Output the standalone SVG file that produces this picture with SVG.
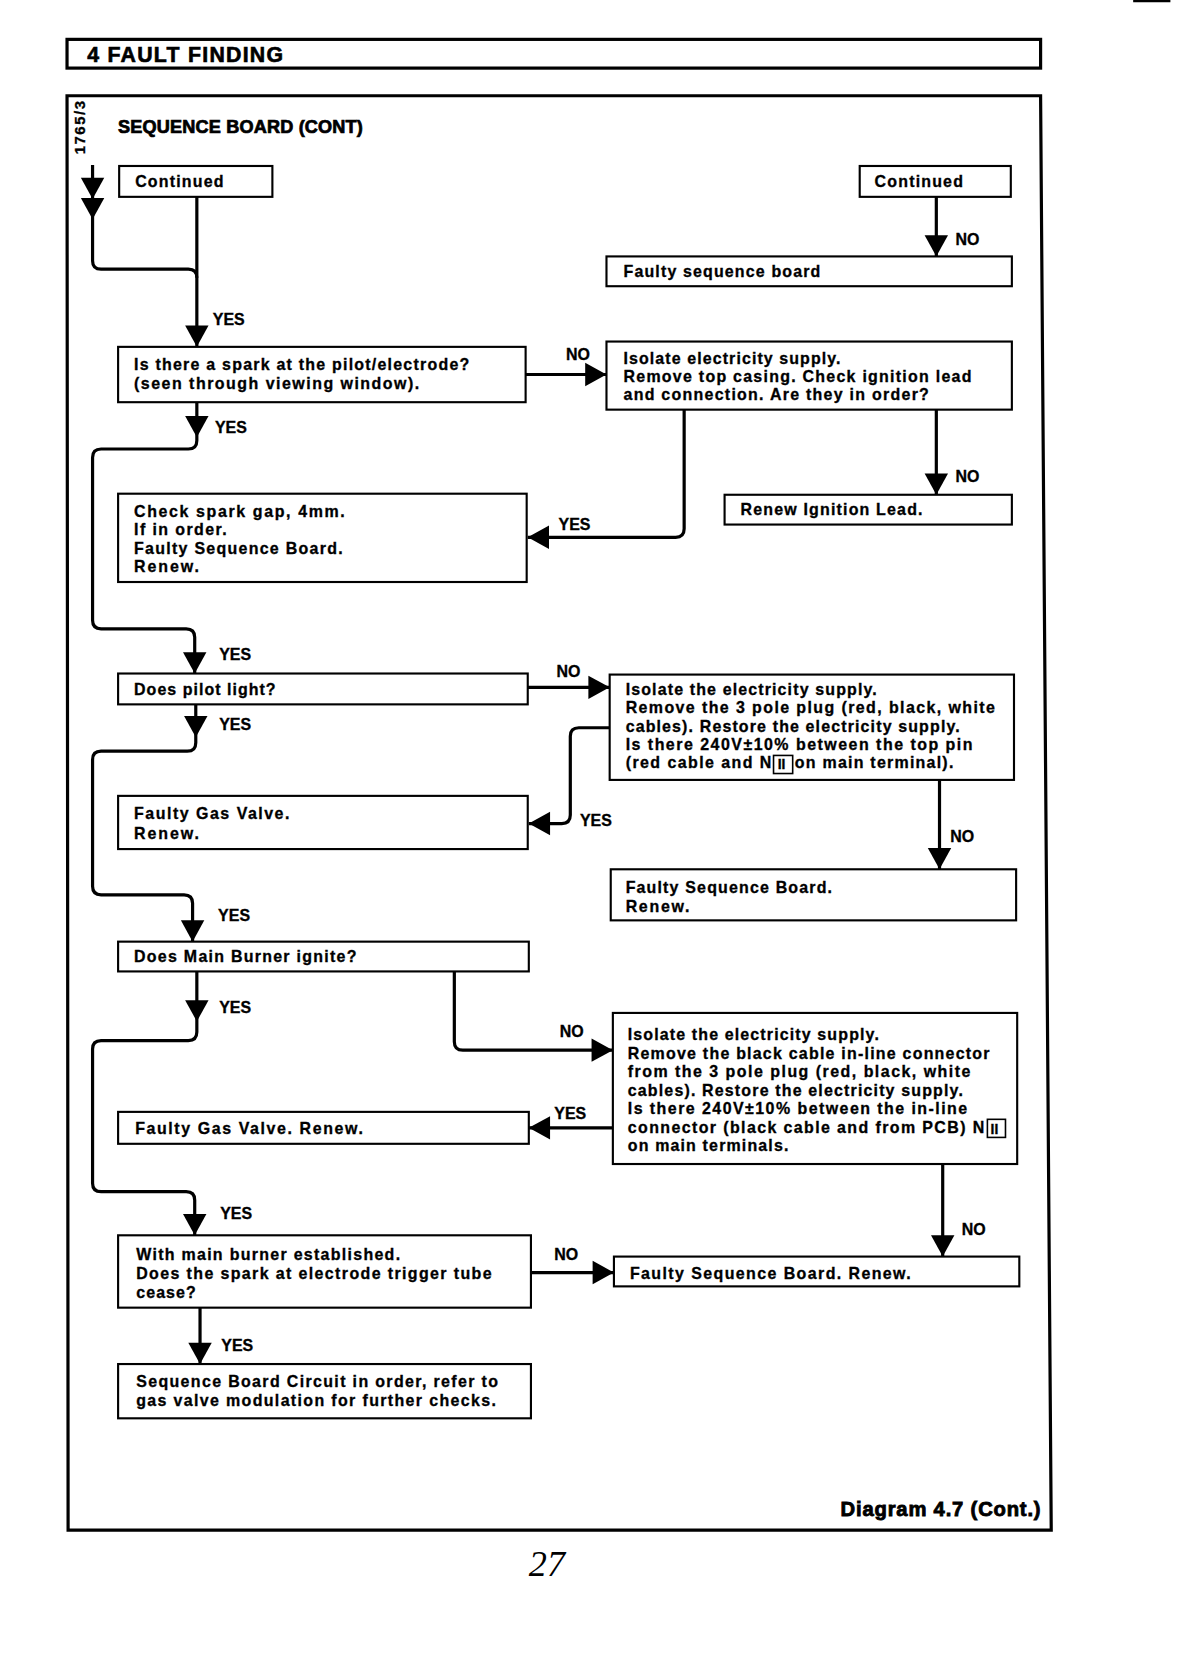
<svg xmlns="http://www.w3.org/2000/svg" xmlns:xlink="http://www.w3.org/1999/xlink" width="1180" height="1670" viewBox="0 0 1180 1670">
<style>
.box{fill:#fff;stroke:#000;stroke-width:2}
.con{fill:none;stroke:#000;stroke-width:3;stroke-linejoin:round}
.frm{fill:none;stroke:#000;stroke-width:3}
.t{font-family:"Liberation Sans",Arial,sans-serif;font-weight:bold;font-size:15px;fill:#000;stroke:#000;stroke-width:0.3}
.lbl{font-size:15px}
.ah{fill:#000}
</style>
<defs>
<path id="ahd" d="M0,0 L-11,-20 L11,-20 Z"/>
</defs>
<rect width="1180" height="1670" fill="#fff"/>
<g transform="scale(1.064)">
<line x1="1065" y1="1" x2="1100" y2="1" stroke="#000" stroke-width="2"/>
<g id="header">
<rect class="frm" x="63" y="37" width="915" height="27"/>
<text class="t" x="82" y="58" style="font-size:20px;stroke-width:0.6" textLength="184">4 FAULT FINDING</text>
</g>
<path id="frame" class="frm" d="M63,90 H978 L988,1438 H64 Z"/>
<text class="t" transform="translate(80,120) rotate(-90)" text-anchor="middle" style="font-size:14px" textLength="50">1765/3</text>
<text class="t" x="111" y="125" style="font-size:17px;stroke-width:0.7" textLength="230">SEQUENCE BOARD (CONT)</text>

<g id="connectors">
<path class="con" d="M87,155 V245 Q87,253 95,253 H177 Q185,253 185,261"/>
<path class="con" d="M185,185 V326"/>
<path class="con" d="M185,378 V414 Q185,422 177,422 H95 Q87,422 87,430 V583 Q87,591 95,591 H175 Q183,591 183,599 V633"/>
<path class="con" d="M184,662 V698 Q184,706 176,706 H95 Q87,706 87,714 V833 Q87,841 95,841 H173 Q181,841 181,849 V885"/>
<path class="con" d="M185,913 V970 Q185,978 177,978 H95 Q87,978 87,986 V1112 Q87,1120 95,1120 H175 Q183,1120 183,1128 V1161"/>
<path class="con" d="M188,1229 V1282"/>
<path class="con" d="M880,185 V241"/>
<path class="con" d="M494,352 H570"/>
<path class="con" d="M643,385 V497 Q643,505 635,505 H496"/>
<path class="con" d="M880,385 V465"/>
<path class="con" d="M496,646 H573"/>
<path class="con" d="M573,684 H544 Q536,684 536,692 V766 Q536,774 528,774 H497"/>
<path class="con" d="M883,733 V817"/>
<path class="con" d="M427,913 V979 Q427,987 435,987 H576"/>
<path class="con" d="M576,1060 H497"/>
<path class="con" d="M886,1094 V1181"/>
<path class="con" d="M499,1196 H577"/>
<use class="ah" xlink:href="#ahd" transform="translate(87,187)"/>
<use class="ah" xlink:href="#ahd" transform="translate(87,206)"/>
<use class="ah" xlink:href="#ahd" transform="translate(185,326)"/>
<use class="ah" xlink:href="#ahd" transform="translate(185,411)"/>
<use class="ah" xlink:href="#ahd" transform="translate(183,633)"/>
<use class="ah" xlink:href="#ahd" transform="translate(184,693)"/>
<use class="ah" xlink:href="#ahd" transform="translate(181,885)"/>
<use class="ah" xlink:href="#ahd" transform="translate(185,960)"/>
<use class="ah" xlink:href="#ahd" transform="translate(183,1161)"/>
<use class="ah" xlink:href="#ahd" transform="translate(188,1282)"/>
<use class="ah" xlink:href="#ahd" transform="translate(880,241)"/>
<use class="ah" xlink:href="#ahd" transform="translate(570,352) rotate(-90)"/>
<use class="ah" xlink:href="#ahd" transform="translate(496,505) rotate(90)"/>
<use class="ah" xlink:href="#ahd" transform="translate(880,465)"/>
<use class="ah" xlink:href="#ahd" transform="translate(573,646) rotate(-90)"/>
<use class="ah" xlink:href="#ahd" transform="translate(497,774) rotate(90)"/>
<use class="ah" xlink:href="#ahd" transform="translate(883,817)"/>
<use class="ah" xlink:href="#ahd" transform="translate(576,987) rotate(-90)"/>
<use class="ah" xlink:href="#ahd" transform="translate(497,1060) rotate(90)"/>
<use class="ah" xlink:href="#ahd" transform="translate(886,1181)"/>
<use class="ah" xlink:href="#ahd" transform="translate(577,1196) rotate(-90)"/>
<text class="t lbl" x="200" y="305">YES</text>
<text class="t lbl" x="202" y="407">YES</text>
<text class="t lbl" x="206" y="620">YES</text>
<text class="t lbl" x="206" y="686">YES</text>
<text class="t lbl" x="205" y="866">YES</text>
<text class="t lbl" x="206" y="952">YES</text>
<text class="t lbl" x="207" y="1146">YES</text>
<text class="t lbl" x="208" y="1270">YES</text>
<text class="t lbl" x="898" y="230">NO</text>
<text class="t lbl" x="532" y="338">NO</text>
<text class="t lbl" x="525" y="498">YES</text>
<text class="t lbl" x="898" y="453">NO</text>
<text class="t lbl" x="523" y="636">NO</text>
<text class="t lbl" x="545" y="776">YES</text>
<text class="t lbl" x="893" y="791">NO</text>
<text class="t lbl" x="526" y="975">NO</text>
<text class="t lbl" x="521" y="1052">YES</text>
<text class="t lbl" x="904" y="1161">NO</text>
<text class="t lbl" x="521" y="1184">NO</text>
</g>

<g id="cont_left">
<rect class="box" x="112" y="156" width="144" height="29"/>
<text class="t" x="127" y="176" textLength="83">Continued</text>
</g>
<g id="cont_right">
<rect class="box" x="808" y="156" width="142" height="29"/>
<text class="t" x="822" y="176" textLength="83">Continued</text>
</g>
<g id="faulty_seq1">
<rect class="box" x="570" y="241" width="381" height="28"/>
<text class="t" x="586" y="260" textLength="185">Faulty sequence board</text>
</g>
<g id="q_spark">
<rect class="box" x="111" y="326" width="383" height="52"/>
<text class="t" x="126" y="348" textLength="315">Is there a spark at the pilot/electrode?</text>
<text class="t" x="126" y="366" textLength="268">(seen through viewing window).</text>
</g>
<g id="isolate1">
<rect class="box" x="570" y="321" width="381" height="64"/>
<text class="t" x="586" y="342" textLength="204">Isolate electricity supply.</text>
<text class="t" x="586" y="359" textLength="327">Remove top casing. Check ignition lead</text>
<text class="t" x="586" y="376" textLength="287">and connection. Are they in order?</text>
</g>
<g id="renew_lead">
<rect class="box" x="681" y="465" width="270" height="28"/>
<text class="t" x="696" y="484" textLength="171">Renew Ignition Lead.</text>
</g>
<g id="check_spark">
<rect class="box" x="111" y="464" width="384" height="83"/>
<text class="t" x="126" y="486" textLength="198">Check spark gap, 4mm.</text>
<text class="t" x="126" y="503" textLength="87">If in order.</text>
<text class="t" x="126" y="521" textLength="196">Faulty Sequence Board.</text>
<text class="t" x="126" y="538" textLength="61">Renew.</text>
</g>
<g id="q_pilot">
<rect class="box" x="111" y="633" width="385" height="29"/>
<text class="t" x="126" y="653" textLength="133">Does pilot light?</text>
</g>
<g id="isolate2">
<rect class="box" x="573" y="634" width="380" height="99"/>
<text class="t" x="588" y="653" textLength="236">Isolate the electricity supply.</text>
<text class="t" x="588" y="670" textLength="347">Remove the 3 pole plug (red, black, white</text>
<text class="t" x="588" y="688" textLength="314">cables). Restore the electricity supply.</text>
<text class="t" x="588" y="705" textLength="326">Is there 240V±10% between the top pin</text>
<text class="t" x="588" y="722" textLength="137">(red cable and N</text>
<rect x="727" y="710" width="18" height="17" fill="none" stroke="#000" stroke-width="1.5"/>
<text class="t" x="731" y="723" style="font-size:13px">II</text>
<text class="t" x="747" y="722" textLength="149">on main terminal).</text>
</g>
<g id="gas_valve1">
<rect class="box" x="111" y="748" width="385" height="50"/>
<text class="t" x="126" y="770" textLength="146">Faulty Gas Valve.</text>
<text class="t" x="126" y="789" textLength="61">Renew.</text>
</g>
<g id="faulty_seq2">
<rect class="box" x="574" y="817" width="381" height="48"/>
<text class="t" x="588" y="839" textLength="194">Faulty Sequence Board.</text>
<text class="t" x="588" y="857" textLength="60">Renew.</text>
</g>
<g id="q_main">
<rect class="box" x="111" y="885" width="386" height="28"/>
<text class="t" x="126" y="904" textLength="209">Does Main Burner ignite?</text>
</g>
<g id="isolate3">
<rect class="box" x="576" y="952" width="380" height="142"/>
<text class="t" x="590" y="977" textLength="236">Isolate the electricity supply.</text>
<text class="t" x="590" y="995" textLength="340">Remove the black cable in-line connector</text>
<text class="t" x="590" y="1012" textLength="322">from the 3 pole plug (red, black, white</text>
<text class="t" x="590" y="1030" textLength="315">cables). Restore the electricity supply.</text>
<text class="t" x="590" y="1047" textLength="319">Is there 240V±10% between the in-line</text>
<text class="t" x="590" y="1065" textLength="335">connector (black cable and from PCB) N</text>
<rect x="928" y="1052" width="17" height="17" fill="none" stroke="#000" stroke-width="1.5"/>
<text class="t" x="931" y="1066" style="font-size:13px">II</text>
<text class="t" x="590" y="1082" textLength="151">on main terminals.</text>
</g>
<g id="gas_valve2">
<rect class="box" x="111" y="1045" width="386" height="30"/>
<text class="t" x="127" y="1066" textLength="214">Faulty Gas Valve. Renew.</text>
</g>
<g id="faulty_seq3">
<rect class="box" x="577" y="1181" width="381" height="28"/>
<text class="t" x="592" y="1202" textLength="264">Faulty Sequence Board. Renew.</text>
</g>
<g id="q_with">
<rect class="box" x="111" y="1161" width="388" height="68"/>
<text class="t" x="128" y="1184" textLength="248">With main burner established.</text>
<text class="t" x="128" y="1202" textLength="334">Does the spark at electrode trigger tube</text>
<text class="t" x="128" y="1220" textLength="56">cease?</text>
</g>
<g id="final">
<rect class="box" x="111" y="1282" width="388" height="51"/>
<text class="t" x="128" y="1304" textLength="340">Sequence Board Circuit in order, refer to</text>
<text class="t" x="128" y="1321" textLength="338">gas valve modulation for further checks.</text>
</g>
<text class="t" x="790" y="1425" style="font-size:19px;stroke-width:0.8" textLength="188">Diagram 4.7 (Cont.)</text>
<text x="497" y="1481" style="font-family:'Liberation Serif',serif;font-style:italic;font-size:34px">27</text>
</g>
</svg>
